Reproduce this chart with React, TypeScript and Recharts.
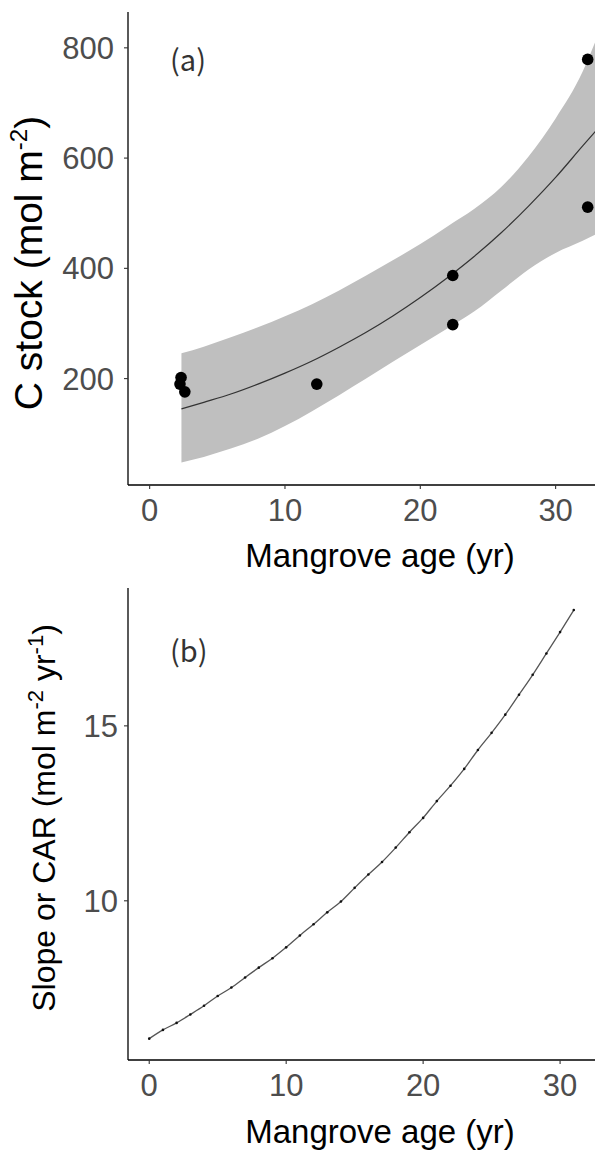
import React from 'react';
import {
  ComposedChart,
  LineChart,
  Line,
  Area,
  Scatter,
  XAxis,
  YAxis,
  Customized,
} from 'recharts';

// panel (a): fitted curve with confidence band
const fitAge = [2.35, 4, 6, 8, 10, 12, 14, 16, 18, 20, 22, 24, 26, 28, 30, 32, 33];
const fitStock = [145, 157, 172, 190, 210, 232, 257, 284, 314, 347, 383, 422, 465, 513, 565, 622, 650];
const ciLow = [48, 58, 73, 91, 114, 141, 170, 200, 231, 261, 291, 322, 360, 398, 428, 450, 462];
const ciHigh = [246, 258, 275, 293, 313, 335, 360, 387, 415, 444, 476, 508, 548, 603, 672, 757, 815];

// panel (a): observations
const obsAge = [2.32, 2.24, 2.6, 12.35, 22.4, 22.4, 32.37, 32.37];
const obsStock = [202, 190, 176, 190, 387, 298, 779, 511];

// panel (b): slope / CAR
const carAge = [0, 1, 2, 3, 4, 5, 6, 7, 8, 9, 10, 11, 12, 13, 14, 15, 16, 17, 18, 19, 20, 21, 22, 23, 24, 25, 26, 27, 28, 29, 30, 31];
const carRate = [
  6.06, 6.31, 6.51, 6.75, 7.0, 7.28, 7.52, 7.81, 8.09, 8.36, 8.67, 9.01, 9.33, 9.67, 9.98, 10.37,
  10.75, 11.11, 11.52, 11.96, 12.37, 12.85, 13.29, 13.77, 14.31, 14.8, 15.32, 15.89, 16.46, 17.07, 17.68, 18.31,
];

const ageTicks = [0, 10, 20, 30];
const stockTicks = [200, 400, 600, 800];
const carTicks = [10, 15];

const bandRows = fitAge.map((x, i) => ({ x, band: [ciLow[i], ciHigh[i]] }));
const fitRows = fitAge.map((x, i) => ({ x, fit: fitStock[i] }));
const obsRows = obsAge.map((x, i) => ({ x, y: obsStock[i] }));
const carRows = carAge.map((x, i) => ({ x, rate: carRate[i] }));

const FONT = '"Liberation Sans", Arial, sans-serif';
const tickStyle = { fill: '#4d4d4d', fontSize: 31, fontFamily: FONT };
const axisLine = { stroke: '#000', strokeWidth: 1.3 };
const tickLine = { stroke: '#333', strokeWidth: 1.1 };

const TopTexts = () => (
  <g>
    <text x={170} y={71} fontSize={29} fontFamily='"Noto Sans CJK JP", sans-serif' fill="#333">
      (a)
    </text>
    <text x={380} y={567} textAnchor="middle" fontSize={33} fontFamily={FONT} fill="#000">
      Mangrove age (yr)
    </text>
    <text
      x={42}
      y={263}
      textAnchor="middle"
      fontSize={39}
      fontFamily={FONT}
      fill="#000"
      transform="rotate(-90 42 263)"
    >
      C stock (mol m
      <tspan dy={-15} fontSize={24}>-2</tspan>
      <tspan dy={15}>)</tspan>
    </text>
  </g>
);

const BottomTexts = () => (
  <g>
    <text x={170} y={87} fontSize={29} fontFamily='"Noto Sans CJK JP", sans-serif' fill="#333">
      (b)
    </text>
    <text x={380} y={568} textAnchor="middle" fontSize={33} fontFamily={FONT} fill="#000">
      Mangrove age (yr)
    </text>
    <text
      x={55}
      y={243}
      textAnchor="middle"
      fontSize={32}
      fontFamily={FONT}
      fill="#000"
      transform="rotate(-90 55 243)"
    >
      Slope or CAR (mol m
      <tspan dy={-12} fontSize={22}>-2</tspan>
      <tspan dy={12}> yr</tspan>
      <tspan dy={-12} fontSize={22}>-1</tspan>
      <tspan dy={12}>)</tspan>
    </text>
  </g>
);

const Dot = (p: any) => <circle cx={p.cx} cy={p.cy} r={5.8} fill="#000" />;

const App = () => {
  return (
    <div style={{ position: 'absolute', left: 0, top: 0, width: 595, height: 1154, background: '#fff' }}>
      <ComposedChart width={595} height={575} margin={{ top: 12, right: 0, bottom: 0, left: 0 }}>
        <XAxis
          type="number"
          dataKey="x"
          domain={[-1.6, 32.91]}
          allowDataOverflow
          ticks={ageTicks}
          interval={0}
          height={90}
          tickSize={4}
          tickMargin={10}
          tick={tickStyle}
          axisLine={axisLine}
          tickLine={tickLine}
        />
        <YAxis
          type="number"
          dataKey="y"
          domain={[7, 865]}
          allowDataOverflow
          ticks={stockTicks}
          interval={0}
          width={128}
          tickSize={4}
          tickMargin={10}
          tick={tickStyle}
          axisLine={axisLine}
          tickLine={tickLine}
        />
        <Area
          data={bandRows}
          dataKey="band"
          type="monotone"
          fill="#bfbfbf"
          fillOpacity={1}
          stroke="none"
          isAnimationActive={false}
        />
        <Line
          data={fitRows}
          dataKey="fit"
          type="monotone"
          stroke="#333"
          strokeWidth={1.2}
          dot={false}
          isAnimationActive={false}
        />
        <Scatter data={obsRows} dataKey="y" shape={Dot} isAnimationActive={false} />
        <Customized component={TopTexts} />
      </ComposedChart>

      <LineChart width={595} height={579} data={carRows} margin={{ top: 13, right: 0, bottom: 0, left: 0 }}>
        <XAxis
          type="number"
          dataKey="x"
          domain={[-1.55, 32.55]}
          allowDataOverflow
          ticks={ageTicks}
          interval={0}
          height={94}
          tickSize={4}
          tickMargin={10}
          tick={tickStyle}
          axisLine={axisLine}
          tickLine={tickLine}
        />
        <YAxis
          type="number"
          domain={[5.45, 18.94]}
          allowDataOverflow
          ticks={carTicks}
          interval={0}
          width={128}
          tickSize={4}
          tickMargin={6}
          tick={tickStyle}
          axisLine={axisLine}
          tickLine={tickLine}
        />
        <Line
          dataKey="rate"
          type="monotone"
          stroke="#555"
          strokeWidth={1.3}
          dot={{ r: 1.3, fill: '#111', stroke: 'none' }}
          isAnimationActive={false}
        />
        <Customized component={BottomTexts} />
      </LineChart>
    </div>
  );
};

export default App;
